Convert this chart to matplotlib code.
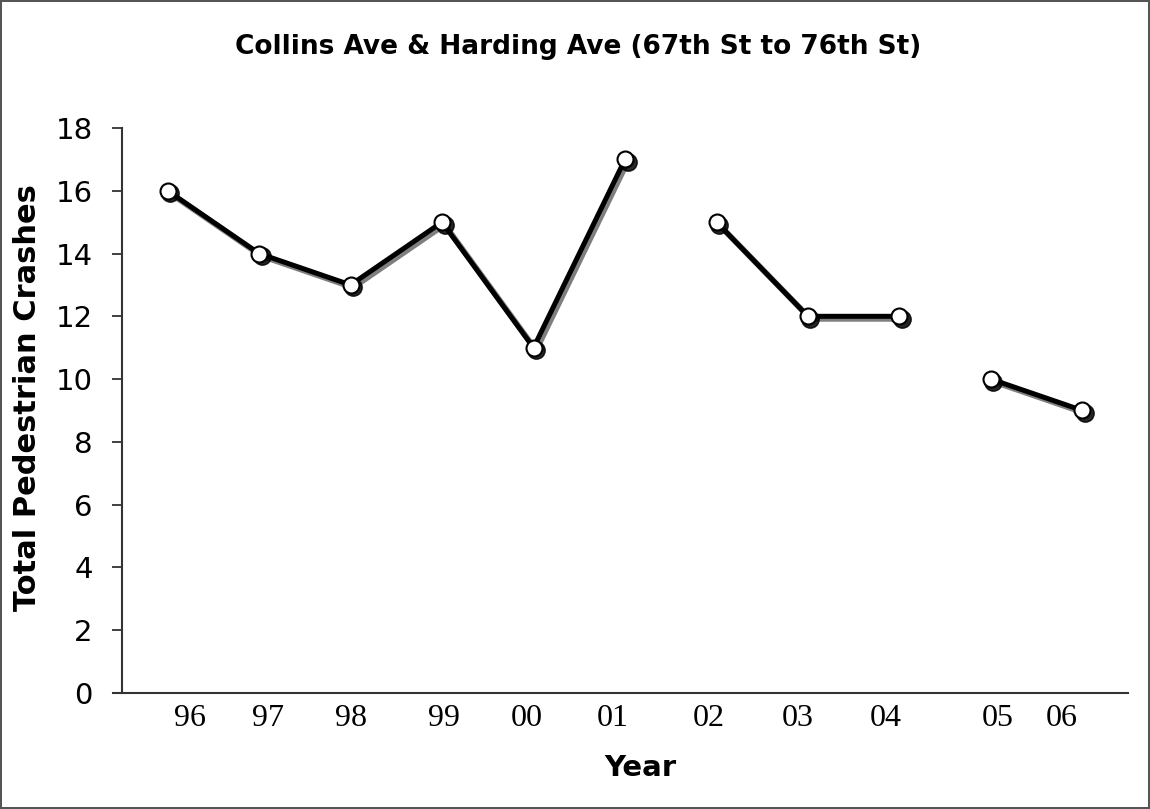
import numpy as np
import matplotlib
matplotlib.use("Agg")
import matplotlib.pyplot as plt
from matplotlib.transforms import offset_copy

# data
years = ["96", "97", "98", "99", "00", "01", "02", "03", "04", "05", "06"]
crashes = [16, 14, 13, 15, 11, 17, 15, 12, 12, 10, 9]
# which connected run each point belongs to (the chart breaks the line twice)
segment = [0, 0, 0, 0, 0, 0, 1, 1, 1, 2, 2]
# the year labels sit a little off their points in the original
label_shift = [0.24, 0.1, 0.0, 0.02, -0.07, -0.14, -0.08, -0.11, -0.15, 0.07, -0.23]

x = np.arange(len(years))
crashes = np.array(crashes)
segment = np.array(segment)

fig = plt.figure(figsize=(11.5, 8.09), dpi=100)
fig.patch.set_edgecolor("#555555")
fig.patch.set_linewidth(1.5)
ax = fig.add_axes([0.106, 0.1434, 0.875, 0.6984])

# drop shadow: same line, shifted down-right
shadow_tr = offset_copy(ax.transData, fig=fig, x=2.5, y=-2.5, units="dots")
for s in np.unique(segment):
    m = segment == s
    ax.plot(x[m], crashes[m], color="black", lw=4.2, alpha=0.5, transform=shadow_tr, zorder=2)
    ax.plot(x[m], crashes[m], ls="none", marker="o", ms=12.5, mfc="black", mec="black",
            alpha=0.85, transform=shadow_tr, zorder=2)
    ax.plot(x[m], crashes[m], color="black", lw=3.6, marker="o", ms=11.5,
            mfc="white", mec="black", mew=1.5, solid_capstyle="round", zorder=3)

ax.set_xlim(-0.5, 10.5)
ax.set_ylim(0, 18)
ax.set_yticks(np.arange(0, 19, 2))
ax.set_xticks(x + np.array(label_shift))
ax.set_xticklabels(years, family="Liberation Serif", fontsize=23)
ax.tick_params(axis="x", length=0, pad=8)
ax.tick_params(axis="y", direction="out", length=7, width=1.3, pad=14,
               labelsize=21, color="#333333")

for side in ["top", "right"]:
    ax.spines[side].set_visible(False)
for side in ["left", "bottom"]:
    ax.spines[side].set_color("#333333")
    ax.spines[side].set_linewidth(1.5)
ax.spines["bottom"].set_bounds(-0.6, 10.5)

ax.set_ylabel("Total Pedestrian Crashes", fontsize=22, fontweight="bold")
ax.yaxis.set_label_coords(-0.079, 0.522)
fig.text(0.5565, 0.051, "Year", fontsize=21, fontweight="bold", ha="center", va="center")
fig.text(0.503, 0.942, "Collins Ave & Harding Ave (67th St to 76th St)",
         fontsize=19, fontweight="bold", ha="center", va="center")

fig.savefig("out.png", dpi=100)
